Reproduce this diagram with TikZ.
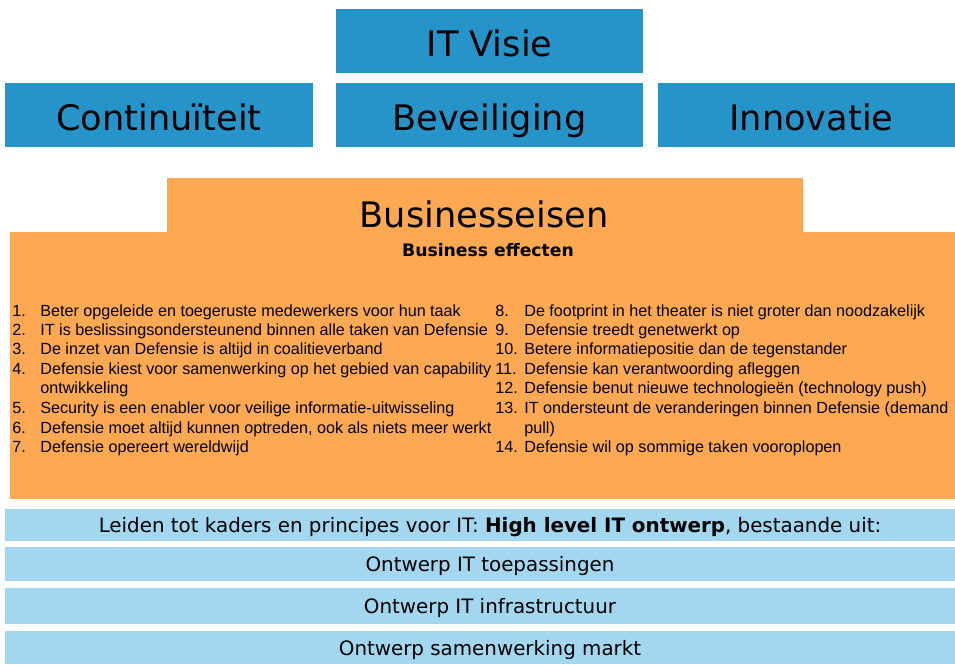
\documentclass[tikz,border=0pt]{standalone}
\usepackage{fontspec}
\setmainfont{Liberation Sans}
\newfontfamily\kopfont{DejaVu Sans}
\usetikzlibrary{positioning}
\definecolor{visieblauw}{HTML}{2694C8}
\definecolor{eisoranje}{HTML}{FDA852}
\definecolor{ontwblauw}{HTML}{A3D6EF}
\tikzstyle{pijler}=[fill=visieblauw,minimum height=1.28cm,inner sep=0pt,text height=19.5pt,text depth=2pt,font=\kopfont\fontsize{20}{24}\selectfont]
\tikzstyle{balk}=[fill=ontwblauw,minimum width=19.4cm,inner sep=0pt,text height=10pt,text depth=1pt,font=\kopfont\fontsize{11.3}{13}\selectfont]
\tikzstyle{item}=[anchor=base west,inner sep=0pt,font=\fontsize{9.2}{10}\selectfont]

\begin{document}
\begin{tikzpicture}[x=0.02cm,y=-0.02cm]

  \useasboundingbox (0,0) rectangle (955,664);

  % pijlers
  \node[pijler,minimum width=6.14cm] (visie) at (489.5,41) {IT Visie};
  \node[pijler,minimum width=6.16cm] (cont) at (159,115) {Continuïteit};
  \node[pijler,minimum width=6.14cm] (bev) at (489.5,115) {Beveiliging};
  \node[pijler,minimum width=6.14cm] (innov) at (811.5,115) {Innovatie};

  % businesseisen
  \node[fill=eisoranje,minimum width=12.72cm,minimum height=1.08cm,inner sep=0pt] (eiskop) at (485,205) {};
  \node[fill=eisoranje,minimum width=18.9cm,minimum height=5.34cm,inner sep=0pt] (eisen) at (482.5,365.5) {};
  \node[inner sep=0pt,font=\kopfont\fontsize{20}{24}\selectfont] (eistitel) at (484,214) {Businesseisen};
  \node[inner sep=0pt,font=\kopfont\bfseries\fontsize{9.8}{11}\selectfont] (effecten) at (488,250) {Business effecten};

    \foreach \y/\nr/\tekst in {316/1./Beter opgeleide en toegeruste medewerkers voor hun taak,
        335/2./IT is beslissingsondersteunend binnen alle taken van Defensie,
        354/3./De inzet van Defensie is altijd in coalitieverband,
        374/4./Defensie kiest voor samenwerking op het gebied van capability,
        393//ontwikkeling,
        413/5./Security is een enabler voor veilige informatie-uitwisseling,
        433/6./{Defensie moet altijd kunnen optreden, ook als niets meer werkt},
        452/7./Defensie opereert wereldwijd}
    {
        \node[item] (ln\y) at (12,\y) {\nr};
        \node[item] (lt\y) at (40,\y) {\tekst};
    }

    \foreach \y/\nr/\tekst in {316/8./De footprint in het theater is niet groter dan noodzakelijk,
        335/9./Defensie treedt genetwerkt op,
        354/10./Betere informatiepositie dan de tegenstander,
        374/11./Defensie kan verantwoording afleggen,
        393/12./Defensie benut nieuwe technologieën (technology push),
        413/13./IT ondersteunt de veranderingen binnen Defensie (demand,
        433//pull),
        452/14./Defensie wil op sommige taken vooroplopen}
    {
        \node[item] (rn\y) at (495,\y) {\nr};
        \node[item] (rt\y) at (524,\y) {\tekst};
    }

  % ontwerp
  \node[balk,minimum height=0.64cm] (kaders) at (490,525) {Leiden tot kaders en principes voor IT: \textbf{High level IT ontwerp}, bestaande uit:};
  \node[balk,minimum height=0.68cm] (toep) at (490,564) {Ontwerp IT toepassingen};
  \node[balk,minimum height=0.72cm] (infra) at (490,606) {Ontwerp IT infrastructuur};
  \node[balk,minimum height=0.66cm] (markt) at (490,647.5) {Ontwerp samenwerking markt};

\end{tikzpicture}
\end{document}
